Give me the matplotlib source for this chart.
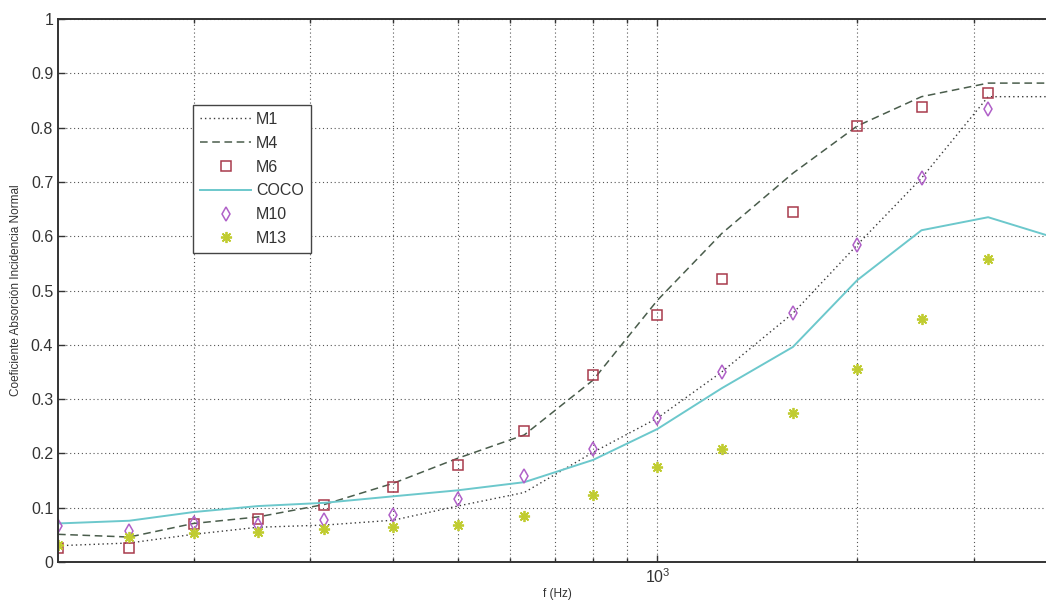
import matplotlib.pyplot as plt
from matplotlib.ticker import FixedLocator, NullFormatter, LogFormatterSciNotation

plt.rcParams.update({"font.family": ["Liberation Sans", "DejaVu Sans"],
                     "mathtext.fontset": "custom",
                     "mathtext.rm": "Liberation Sans",
                     "mathtext.it": "Liberation Sans"})

# tercios de octava
freq = [125, 160, 200, 250, 315, 400, 500, 630, 800, 1000, 1250, 1600, 2000, 2500, 3150, 4000]
freq_pts = freq[:-1]

m1 = [0.030, 0.035, 0.051, 0.064, 0.068, 0.077, 0.103, 0.128, 0.202, 0.265, 0.350, 0.458, 0.584,
      0.707, 0.857, 0.857]
m4 = [0.051, 0.046, 0.071, 0.083, 0.106, 0.145, 0.191, 0.234, 0.335, 0.482, 0.605, 0.716, 0.803,
      0.857, 0.882, 0.882]
coco = [0.071, 0.076, 0.092, 0.103, 0.109, 0.121, 0.132, 0.147, 0.188, 0.245, 0.320, 0.396, 0.519,
        0.611, 0.635, 0.596]
m6 = [0.025, 0.025, 0.070, 0.080, 0.105, 0.138, 0.179, 0.241, 0.344, 0.455, 0.521, 0.644, 0.803,
      0.838, 0.864]
m10 = [0.066, 0.057, 0.072, 0.068, 0.077, 0.087, 0.116, 0.158, 0.208, 0.265, 0.350, 0.458, 0.584,
       0.707, 0.834]
m13 = [0.031, 0.046, 0.053, 0.055, 0.061, 0.064, 0.068, 0.085, 0.123, 0.175, 0.208, 0.274, 0.355,
       0.447, 0.558]

yticks = [0, 0.1, 0.2, 0.3, 0.4, 0.5, 0.6, 0.7, 0.8, 0.9, 1]
ytick_labels = ["0", "0.1", "0.2", "0.3", "0.4", "0.5", "0.6", "0.7", "0.8", "0.9", "1"]

fig = plt.figure(figsize=(10.46, 6.06), dpi=100)
ax = fig.add_axes([0.0555, 0.0726, 0.955, 0.896])

ax.plot(freq, m1, color="#3a3a3a", lw=1.0, ls=(0, (1, 2.2)), label="M1")
ax.plot(freq, m4, color="#4a5d4c", lw=1.1, ls=(0, (5, 3)), label="M4")
ax.plot(freq_pts, m6, ls="none", marker="s", ms=7.5, mfc="none", mec="#a83a4c", mew=1.1,
        label="M6")
ax.plot(freq, coco, color="#6cc8cc", lw=1.4, label="COCO")
ax.plot(freq_pts, m10, ls="none", marker="d", ms=7, mfc="none", mec="#b060c8", mew=1.1,
        label="M10")
ax.plot(freq_pts, m13, ls="none", marker=(8, 2, 0), ms=8, mec="#c0cc30", mew=1.3,
        label="M13")

ax.set_xscale("log")
ax.set_xlim(125, 4000)
ax.set_ylim(0, 1)
ax.xaxis.set_major_locator(FixedLocator([1000]))
ax.xaxis.set_major_formatter(LogFormatterSciNotation())
ax.xaxis.set_minor_locator(FixedLocator([200, 300, 400, 500, 600, 700, 800, 900, 2000, 3000]))
ax.xaxis.set_minor_formatter(NullFormatter())
ax.set_yticks(yticks)
ax.set_yticklabels(ytick_labels)

ax.grid(True, which="both", color="#555555", lw=0.8, ls=(0, (1, 2.5)))
ax.tick_params(which="both", direction="in", top=True, right=True, labelsize=11.5,
               colors="#333333", length=5, width=1)
ax.tick_params(which="minor", length=3)
ax.tick_params(axis="x", pad=4)
for side in ["left", "bottom", "top", "right"]:
    ax.spines[side].set_linewidth(1.4)
    ax.spines[side].set_color("#333333")

ax.set_xlabel("f (Hz)", fontsize=8.5, color="#333333", labelpad=1)
ax.set_ylabel("Coeficiente Absorción Incidencia Normal", fontsize=8.5, color="#333333",
              labelpad=6)

leg = ax.legend(loc="upper left", bbox_to_anchor=(0.135, 0.842), borderaxespad=0,
                fontsize=11.5, fancybox=False, framealpha=1, edgecolor="#444444",
                handlelength=3.2, handletextpad=0.3, labelspacing=0.55, numpoints=1,
                borderpad=0.45)
leg.get_frame().set_linewidth(1.0)
for t in leg.get_texts():
    t.set_color("#333333")

fig.savefig("out.png", dpi=100)
